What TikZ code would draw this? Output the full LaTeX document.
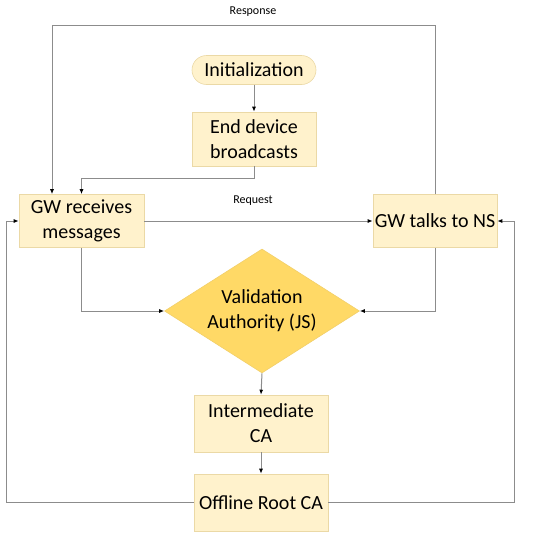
\documentclass[tikz,border=0pt]{standalone}
\usepackage{xcolor}
\usepackage{fontspec}
\setmainfont{Carlito}
\usepackage{tikz}
\usetikzlibrary{positioning,arrows.meta,shapes.geometric}

\definecolor{boxfill}{HTML}{FFF2CC}
\definecolor{boxline}{HTML}{EBD9A6}
\definecolor{vafill}{HTML}{FFD966}
\definecolor{valine}{HTML}{F2CF6A}
\definecolor{wire}{HTML}{8C8C8C}

\tikzset{
  stepbox/.style={draw=boxline, fill=boxfill, line width=0.6pt, align=center,
    font=\fontsize{20}{25}\selectfont, inner sep=0pt},
  startbox/.style={stepbox, rounded corners=14.5pt},
  checkbox/.style={draw=valine, fill=vafill, line width=0.6pt, shape=diamond,
    aspect=1.57, inner sep=0pt, align=center, font=\fontsize{20}{25}\selectfont,
    minimum width=195pt, minimum height=124pt},
  wirearrow/.style={draw=wire, line width=1pt, -{Latex[black,length=5pt,width=4pt]}},
  tag/.style={font=\fontsize{12}{14}\selectfont}
}

\begin{document}
\begin{tikzpicture}[x=1pt, y=-1pt]
\useasboundingbox (0,0) rectangle (550,539);

% flow column
\node[startbox, minimum width=124pt, minimum height=29pt] (init) at (254,70) {Initialization};
\node[stepbox, minimum width=124pt, minimum height=54pt] (edb) at (254,139) {End device\\broadcasts};
\node[stepbox, minimum width=125pt, minimum height=53pt] (gwr) at (81.5,221) {GW receives\\messages};
\node[stepbox, minimum width=124pt, minimum height=53pt] (gwt) at (435,221) {GW talks to NS};
\node[checkbox] (va) at (262,311) {Validation\\Authority (JS)};
\node[stepbox, minimum width=134pt, minimum height=57pt] (ica) at (261,423.5) {Intermediate\\CA};
\node[stepbox, minimum width=134pt, minimum height=57pt] (orc) at (261,502.5) {Offline Root CA};

% labels on the lines
\node[tag] (resp) at (253,12) {Response};
\node[tag] (req) at (253,201) {Request};

% corners of the outer loops
\coordinate (rtop) at (52,25);
\coordinate (lft) at (6,0);
\coordinate (rgt) at (514,0);

\draw[wirearrow] (init) -- (edb);
\draw[wirearrow] (edb.south) -- ++(0,12) -| (gwr.north);
\draw[wirearrow] (gwt.north) |- (rtop) -- (rtop |- gwr.north);
\draw[wirearrow] (gwr.east) -- (gwt.west);
\draw[wirearrow] (gwr.south) |- (va.west);
\draw[wirearrow] (gwt.south) |- (va.east);
\draw[wirearrow] (va.south) -- (ica.north);
\draw[wirearrow] (ica) -- (orc);
\draw[wirearrow] (orc.west) -- (orc.west -| lft) |- (gwr.west);
\draw[wirearrow] (orc.east) -- (orc.east -| rgt) |- (gwt.east);
\end{tikzpicture}
\end{document}
